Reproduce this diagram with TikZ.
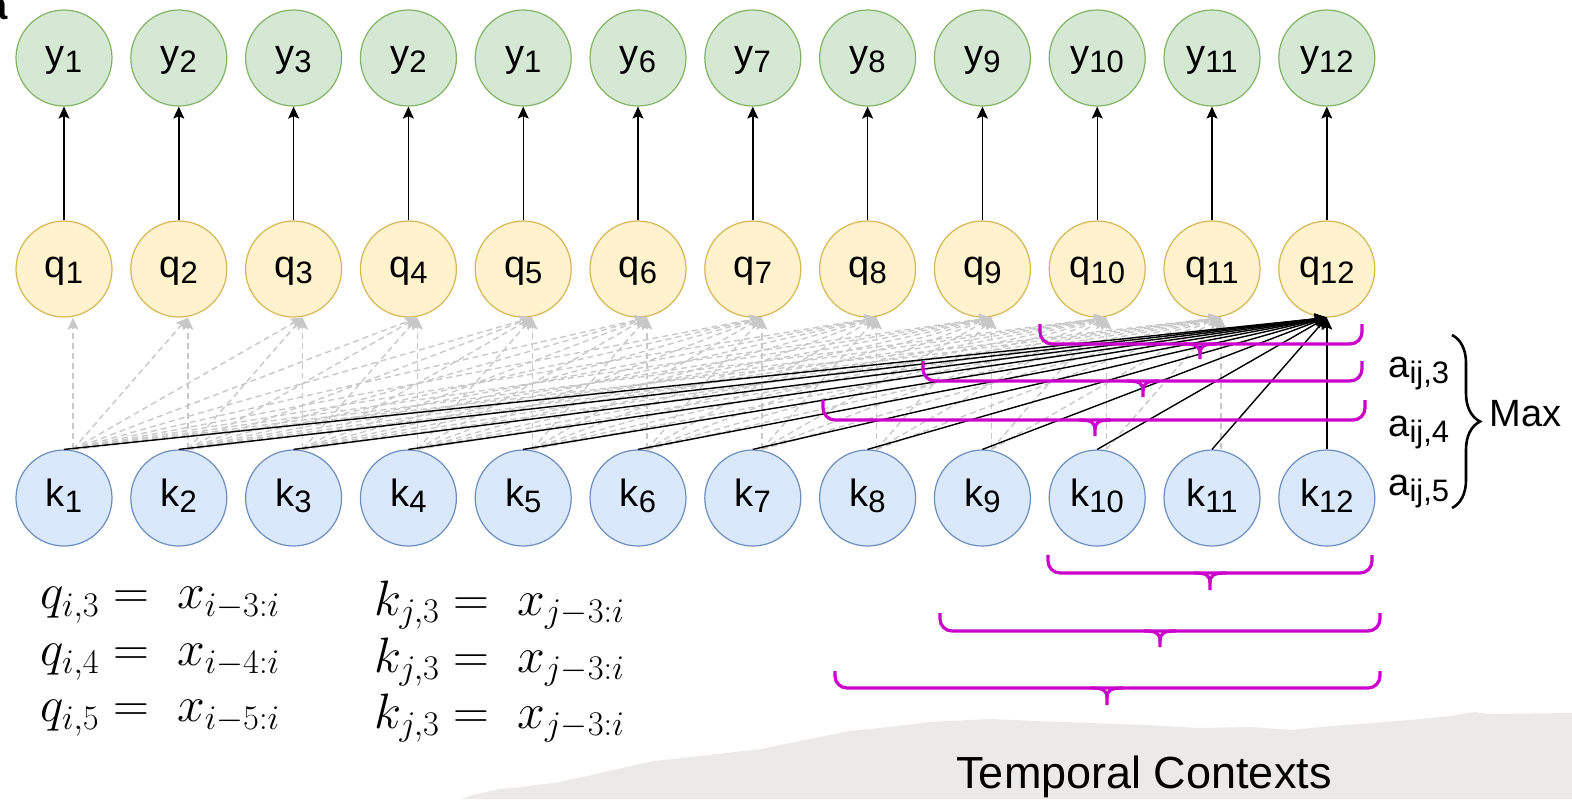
\documentclass[tikz,border=0pt]{standalone}
\usepackage[no-math]{fontspec}
\setmainfont{Liberation Sans}
\usetikzlibrary{arrows.meta,decorations.pathreplacing}
\DeclareMathSizes{23}{23}{17.5}{13}
\definecolor{yfill}{HTML}{D5E8D4}\definecolor{ydraw}{HTML}{82B366}
\definecolor{qfill}{HTML}{FFF2CC}\definecolor{qdraw}{HTML}{D6B656}
\definecolor{kfill}{HTML}{DAE8FC}\definecolor{kdraw}{HTML}{6C8EBF}
\definecolor{lgray}{HTML}{C8C8C8}\definecolor{mag}{HTML}{CC00CC}
\definecolor{bgpaper}{HTML}{EBEAE8}
\newcommand\lbl[2]{#1\smash{\raisebox{-3pt}{\fontsize{15.5}{16}\selectfont #2}}}
\newcommand\mbrace[6]{%
  \draw[brc,rounded corners=6pt] (#1,#4) -- (#1,#5) -- (#2,#5) -- (#2,#4);
  \draw[brc] (#3-16,#5) .. controls (#3-4,#5) and (#3,#5+2) .. (#3,#5+10) -- (#3,#6);
  \draw[brc] (#3+16,#5) .. controls (#3+4,#5) and (#3,#5+2) .. (#3,#5+10);}
\begin{document}
\begin{tikzpicture}[x=0.5pt,y=-0.5pt,
  nd/.style={circle,minimum size=48pt,inner sep=0pt,line width=0.6pt,
    font=\fontsize{19}{21}\selectfont,text height=0.9em,text depth=0.1em},
  ynode/.style={nd,fill=yfill,draw=ydraw},
  qnode/.style={nd,fill=qfill,draw=qdraw},
  knode/.style={nd,fill=kfill,draw=kdraw},
  barrow/.style={line width=0.7pt,-{Stealth[length=6pt,width=5.5pt,inset=1.2pt]}},
  garrow/.style={line width=0.7pt,lgray,dash pattern=on 3pt off 2pt,-{Stealth[length=6pt,width=5.5pt,inset=1.2pt]}},
  brc/.style={mag,line width=1.6pt},
  txt/.style={inner sep=0pt,font=\fontsize{19}{21}\selectfont},
  eq/.style={anchor=west,inner sep=0pt,font=\fontsize{23}{26}\selectfont}]
\useasboundingbox (0,0) rectangle (1572,799);
\clip (0,0) rectangle (1572,799);
% paper background
\fill[bgpaper] (461,799) -- (472,795) -- (500,789) -- (522,787) -- (560,782) -- (600,773) -- (654,761) -- (700,756) -- (761,749) -- (800,741) -- (850,731) -- (880,728) -- (930,722) -- (990,719) -- (1060,722) -- (1146,725) -- (1200,728) -- (1250,727) -- (1292,730) -- (1330,726) -- (1360,724) -- (1420,719) -- (1450,716) -- (1474,712) -- (1490,714) -- (1572,713) -- (1572,799) -- cycle;
\node[inner sep=0pt,font=\fontsize{22.5}{26}\selectfont] (tc) at (1144,777) {Temporal Contexts};
% panel label fragment
\node[anchor=base east,inner sep=0pt,font=\bfseries\fontsize{20}{20}\selectfont] (plabel) at (8,19) {a};
% nodes
\foreach \i/\t in {1/1,2/2,3/3,4/2,5/1,6/6,7/7,8/8,9/9,10/10,11/11,12/12}
  \node[ynode] (y\i) at ({64+(\i-1)*114.8},58) {\lbl{y}{\t}};
\foreach \i in {1,...,12}{
  \node[qnode] (q\i) at ({64+(\i-1)*114.8},269) {\lbl{q}{\i}};
  \node[knode] (k\i) at ({64+(\i-1)*114.8},498) {\lbl{k}{\i}};
}
% gray causal connections
\foreach \j in {1,...,11}
  \foreach \i in {\j,...,11}
    \draw[garrow] ([xshift=4.5pt]k\j.north) -- ([xshift=4.5pt]q\i.south);
% black connections
\foreach \j in {1,...,12}
  \draw[barrow] (k\j.north) -- (q12.south);
\foreach \i in {1,...,12}
  \draw[barrow] (q\i.north) -- (y\i.south);
% magenta braces
\mbrace{1040}{1362}{1200}{324}{344}{359}
\mbrace{923}{1362}{1143}{361}{381}{397}
\mbrace{823}{1365}{1095}{400}{420}{436}
\mbrace{1048}{1372}{1210}{555}{573}{590}
\mbrace{940}{1380}{1160}{613}{631}{647}
\mbrace{835}{1380}{1107}{671}{688}{705}
% attention labels
\node[txt,anchor=west] (a3) at (1388,367) {\lbl{a}{ij,3}};
\node[txt,anchor=west] (a4) at (1388,426) {\lbl{a}{ij,4}};
\node[txt,anchor=west] (a5) at (1388,485) {\lbl{a}{ij,5}};
\draw[line width=1.3pt,decorate,decoration={brace,amplitude=14pt}] (1452,335) -- (1452,508);
\node[txt,anchor=west] (max) at (1489,414) {Max};
% equations
\node[eq] (e1) at (40,605) {$q_{i,3} = \; x_{i-3:i}$};
\node[eq] (e2) at (40,662) {$q_{i,4} = \; x_{i-4:i}$};
\node[eq] (e3) at (40,718) {$q_{i,5} = \; x_{i-5:i}$};
\node[eq] (e4) at (374,605) {$k_{j,3} = \; x_{j-3:i}$};
\node[eq] (e5) at (374,662) {$k_{j,3} = \; x_{j-3:i}$};
\node[eq] (e6) at (374,718) {$k_{j,3} = \; x_{j-3:i}$};
\end{tikzpicture}
\end{document}
